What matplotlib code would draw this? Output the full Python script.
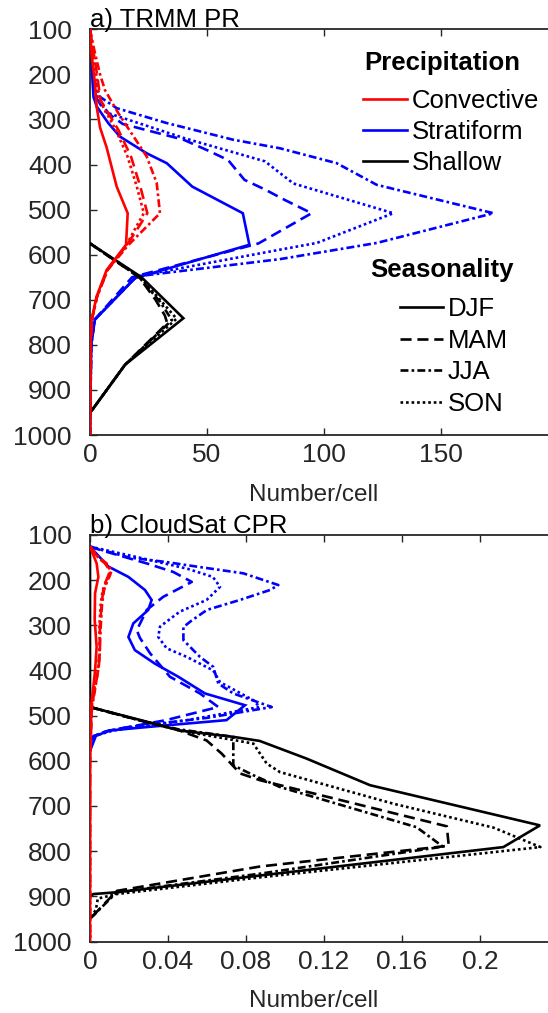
import matplotlib
matplotlib.use("Agg")
import matplotlib.pyplot as plt
from matplotlib.lines import Line2D

plt.rcParams['font.family'] = ['Liberation Sans', 'DejaVu Sans']

# ---------------- TRMM PR (pressure hPa, number per cell) ----------------
trmm_convective = {
    "DJF": ([100, 160, 220, 272, 318, 362, 449, 508, 578, 634, 693, 744, 800, 1000],
            [0, 0.8, 2.1, 2.85, 4.3, 7.1, 11.4, 16.1, 15.4, 7.1, 2.8, 0.7, 0.2, 0]),
    "MAM": ([100, 150, 200, 257, 323, 382, 449, 508, 545, 578, 634, 693, 744, 800, 1000],
            [0, 1.5, 3.0, 4.5, 12.1, 17.5, 21.5, 24.5, 20, 15.8, 7.5, 3, 0.8, 0.2, 0]),
    "JJA": ([100, 150, 200, 235, 286, 382, 441, 508, 578, 634, 693, 744, 800, 1000],
            [0, 2, 4.3, 6.4, 12.1, 24.2, 28.5, 29.9, 16.5, 7.5, 3, 0.8, 0.2, 0]),
    "SON": ([100, 150, 200, 257, 323, 382, 449, 508, 545, 578, 634, 693, 744, 800, 1000],
            [0, 1.2, 2.5, 4.0, 11.0, 16.0, 20.0, 23.0, 19.0, 15.6, 7.3, 3, 0.8, 0.2, 0]),
}
trmm_stratiform = {
    "DJF": ([100, 183, 250, 271, 308, 338, 375, 397, 449, 508, 578, 652, 744, 800, 1000],
            [0, 0.7, 1.5, 2.85, 7.8, 12.8, 24.2, 32.8, 43.7, 65.3, 68.1, 19.2, 2.1, 0.5, 0]),
    "MAM": ([100, 200, 250, 280, 310, 345, 368, 390, 434, 456, 478, 508, 575, 650, 744, 800, 1000],
            [0, 1, 2.5, 6, 14, 40, 50, 59, 66, 75, 83, 94.7, 72, 18, 2, 0.5, 0]),
    "JJA": ([100, 200, 250, 275, 308, 345, 364, 397, 445, 508, 574, 610, 648, 744, 800, 1000],
            [0, 1, 4.3, 11.4, 32.8, 61.2, 81.2, 105.4, 122.5, 172.4, 122.5, 81, 20, 2, 0.5, 0]),
    "SON": ([100, 200, 250, 286, 342, 393, 419, 442, 508, 574, 589, 648, 744, 800, 1000],
            [0, 1, 3, 7.8, 40.6, 74.8, 81.2, 86.9, 129.6, 96.9, 81, 20, 2, 0.5, 0]),
}
trmm_shallow = {
    "DJF": ([575, 650, 741, 844, 951], [0, 22, 39.9, 15, 0]),
    "MAM": ([575, 650, 700, 735, 752, 844, 951], [0, 21, 28, 32, 33, 15, 0]),
    "JJA": ([575, 650, 705, 745, 844, 951], [0, 21, 30, 35, 15, 0]),
    "SON": ([575, 650, 742, 844, 951], [0, 21.5, 37, 15, 0]),
}

# ---------------- CloudSat CPR ----------------
cs_convective = {
    "DJF": ([126, 163, 193, 229, 288, 348, 400, 437, 481, 600, 1000],
            [0, 0.0034, 0.0043, 0.0026, 0.0024, 0.0034, 0.0026, 0.0017, 0.0005, 0, 0]),
    "MAM": ([126, 150, 163, 178, 189, 207, 222, 252, 303, 362, 400, 437, 481, 600, 1000],
            [0, 0.004, 0.0077, 0.0100, 0.0095, 0.0077, 0.0068, 0.006, 0.0051, 0.0051, 0.0043, 0.0026, 0.0009, 0, 0]),
    "JJA": ([126, 150, 163, 178, 189, 207, 222, 252, 303, 362, 400, 437, 481, 600, 1000],
            [0, 0.0045, 0.0085, 0.0111, 0.0103, 0.0085, 0.0072, 0.0062, 0.0055, 0.0048, 0.004, 0.0028, 0.001, 0, 0]),
    "SON": ([126, 150, 163, 178, 189, 207, 222, 252, 303, 362, 400, 437, 481, 600, 1000],
            [0, 0.0042, 0.008, 0.0105, 0.0098, 0.008, 0.0065, 0.0055, 0.0048, 0.005, 0.0042, 0.0024, 0.0008, 0, 0]),
}
cs_stratiform = {
    "DJF": ([126, 170, 193, 222, 244, 266, 296, 326, 355, 385, 414, 451, 477, 510, 525, 533, 545, 578],
            [0, 0.0094, 0.0197, 0.0282, 0.0316, 0.0299, 0.0222, 0.0197, 0.023, 0.0333, 0.0453, 0.059,
             0.0795, 0.070, 0.03, 0.01, 0.003, 0]),
    "MAM": ([126, 133, 163, 182, 204, 237, 266, 311, 328, 362, 414, 451, 481, 510, 533, 545, 560],
            [0, 0.005, 0.029, 0.0427, 0.0522, 0.0376, 0.0291, 0.024, 0.0256, 0.0308, 0.041, 0.0564,
             0.0658, 0.039, 0.01, 0.002, 0]),
    "JJA": ([126, 150, 160, 171, 185, 211, 222, 244, 266, 290, 304, 333, 370, 392, 429, 451, 481,
             505, 525, 535, 545, 555],
            [0, 0.02, 0.039, 0.056, 0.0786, 0.0966, 0.0923, 0.0769, 0.06, 0.052, 0.0479, 0.0479,
             0.0564, 0.0632, 0.0658, 0.0735, 0.0932, 0.06, 0.02, 0.008, 0.002, 0]),
    "SON": ([126, 150, 175, 193, 215, 244, 270, 303, 326, 351, 370, 400, 426, 466, 481, 510, 533, 545, 555],
            [0, 0.025, 0.05, 0.063, 0.0667, 0.0598, 0.046, 0.0359, 0.035, 0.0393, 0.0496, 0.0632,
             0.0667, 0.0838, 0.087, 0.05, 0.012, 0.002, 0]),
}
cs_shallow = {
    "DJF": ([126, 481, 510, 533, 547, 556, 595, 654, 743, 791, 891, 895, 900],
            [0, 0, 0.026, 0.046, 0.0735, 0.087, 0.111, 0.1436, 0.2308, 0.212, 0.0137, 0.0017, 0]),
    "MAM": ([481, 510, 530, 555, 584, 628, 643, 745, 788, 834, 888, 950],
            [0, 0.025, 0.044, 0.0598, 0.0675, 0.077, 0.0872, 0.183, 0.184, 0.0872, 0.0137, 0]),
    "JJA": ([481, 510, 530, 547, 610, 632, 658, 747, 790, 850, 891, 950],
            [0, 0.025, 0.045, 0.0735, 0.0735, 0.0838, 0.0974, 0.1675, 0.181, 0.087, 0.0137, 0]),
    "SON": ([481, 510, 533, 555, 562, 606, 625, 695, 748, 791, 858, 895, 905, 930, 950],
            [0, 0.025, 0.046, 0.075, 0.0838, 0.0906, 0.0974, 0.1556, 0.207, 0.231, 0.0872, 0.0137,
             0.004, 0.003, 0]),
}

seasons = ["DJF", "MAM", "JJA", "SON"]
precip_types = ["Convective", "Stratiform", "Shallow"]
pressure_ticks = [100, 200, 300, 400, 500, 600, 700, 800, 900, 1000]
trmm_xticks = [0, 50, 100, 150]
cs_xticks = [0, 0.04, 0.08, 0.12, 0.16, 0.2]
cs_xticklabels = ["0", "0.04", "0.08", "0.12", "0.16", "0.2"]

type_colors = {"Convective": "#ff0000", "Stratiform": "#0000ff", "Shallow": "#000000"}
season_dashes = {"DJF": None, "MAM": (4.2, 2.2), "JJA": (3, 1.2, 1, 1.2), "SON": (1, 1.1)}
LW = 1.9
AXC = "#262626"
FS = 18.5

W, H = 548, 1013
fig = plt.figure(figsize=(W / 100, H / 100), dpi=100)


def frac_box(left, top, right, bottom):
    return [left / W, 1 - bottom / H, (right - left) / W, (bottom - top) / H]


def draw_line(ax, p, v, color, season, z):
    ln, = ax.plot(v, p, color=color, lw=LW, zorder=z, solid_capstyle='butt',
                  dash_capstyle='butt', solid_joinstyle='miter')
    d = season_dashes[season]
    if d is not None:
        ln.set_dashes(d)


def style_axes(ax, xmax, xticks, xticklabels, title):
    ax.set_ylim(1000, 100)
    ax.set_xlim(0, xmax)
    ax.set_yticks(pressure_ticks)
    ax.set_xticks(xticks)
    if xticklabels is not None:
        ax.set_xticklabels(xticklabels)
    ax.tick_params(axis='both', direction='in', length=5, width=1, colors=AXC,
                   labelsize=19, top=True, right=False)
    ax.tick_params(axis='y', pad=13)
    ax.tick_params(axis='x', pad=5.8)
    ax.spines['right'].set_visible(False)
    for s in ['left', 'top', 'bottom']:
        ax.spines[s].set_color(AXC)
        ax.spines[s].set_linewidth(1.3)
    ax.set_xlabel("Number/cell", fontsize=17.5, color=AXC)
    ax.xaxis.set_label_coords(0.488, -0.12)
    ax.xaxis.label.set_va('top')
    ax.set_title(title, loc='left', fontsize=18.5, pad=1.5)


ax1 = fig.add_axes(frac_box(90, 29.3, 548, 435))
ax2 = fig.add_axes(frac_box(90, 534.9, 548, 941.5))

zorders = {"Stratiform": 2, "Shallow": 3, "Convective": 4}
for ax, groups in [(ax1, [trmm_stratiform, trmm_shallow, trmm_convective]),
                   (ax2, [cs_stratiform, cs_shallow, cs_convective])]:
    for name, grp in zip(["Stratiform", "Shallow", "Convective"], groups):
        for s in seasons:
            p, v = grp[s]
            draw_line(ax, p, v, type_colors[name], s, zorders[name])

style_axes(ax1, 195.7, trmm_xticks, None, "a) TRMM PR")
style_axes(ax2, 0.2349, cs_xticks, cs_xticklabels, "b) CloudSat CPR")

# Legends: precipitation type and season
type_handles = [Line2D([], [], color=type_colors[t], lw=LW) for t in precip_types]
leg1 = ax1.legend(type_handles, precip_types, loc='upper left',
                  bbox_to_anchor=(363 / W, 1 - 89 / H), bbox_transform=fig.transFigure,
                  frameon=False, fontsize=FS, handlelength=1.71, handletextpad=0.2,
                  labelspacing=0.28, borderpad=0, borderaxespad=0)
ax1.add_artist(leg1)

season_handles = []
for s in seasons:
    h = Line2D([], [], color='black', lw=LW)
    if season_dashes[s] is not None:
        h.set_dashes(season_dashes[s])
    season_handles.append(h)
leg2 = ax1.legend(season_handles, seasons, loc='upper left',
                  bbox_to_anchor=(400 / W, 1 - 297 / H), bbox_transform=fig.transFigure,
                  frameon=False, fontsize=FS, handlelength=1.67, handletextpad=0.2,
                  labelspacing=0.3, borderpad=0, borderaxespad=0)

fig.text(442.5 / W, 1 - 63 / H, "Precipitation", fontsize=FS, fontweight='bold',
         ha='center', va='center')
fig.text(442 / W, 1 - 270 / H, "Seasonality", fontsize=FS, fontweight='bold',
         ha='center', va='center')

fig.savefig("out.png", dpi=100)
